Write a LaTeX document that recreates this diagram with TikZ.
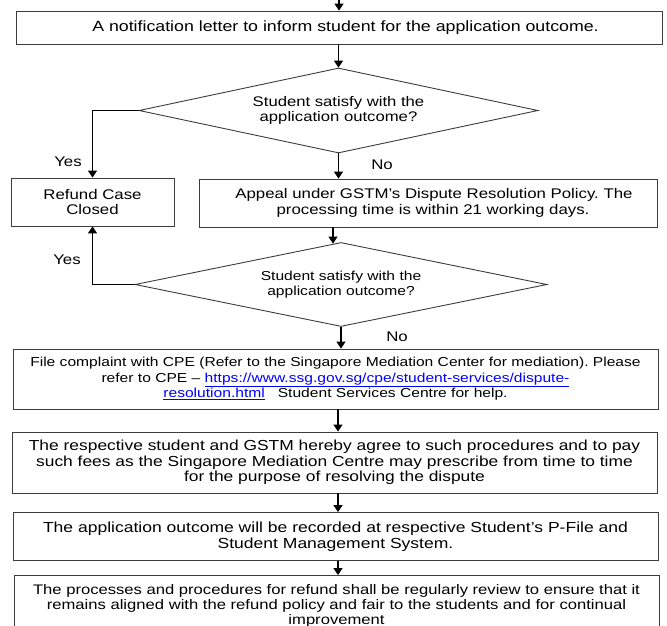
\documentclass[tikz,border=0pt]{standalone}
\usepackage{fontspec}
\setmainfont{Liberation Sans}[FakeStretch=1.2]
\usetikzlibrary{arrows.meta,shapes.geometric}
\definecolor{linkblue}{RGB}{0,0,255}
\definecolor{edge}{RGB}{60,60,60}
\frenchspacing
\begin{document}
\begin{tikzpicture}[x=1pt,y=-1pt,
  box/.style={draw=edge, line width=0.9pt, rectangle, inner sep=0pt, align=center,
    font=\fontsize{14}{15.5}\selectfont},
  dia/.style={draw=edge, line width=0.9pt, diamond, aspect=4.7, inner sep=0pt, align=center},
  conn/.style={-{Triangle[width=9pt,length=7pt]}, line width=1.1pt, black},
  lbl/.style={font=\fontsize{14}{15.5}\selectfont, inner sep=0pt}]
\useasboundingbox (0,0) rectangle (667,626);
\clip (0,0) rectangle (667,626);
\coordinate (col) at (338,0);
\coordinate (top) at (339,-2);
% boxes
\node[box, minimum width=646pt, minimum height=33pt, font=\fontsize{14.8}{15.5}\selectfont] (b1) at (339,27.5)
  {\hspace*{13pt}A notification letter to inform student for the application outcome.};
\node[dia, minimum width=399pt, minimum height=85pt, font=\fontsize{13.9}{14.5}\selectfont] (d1) at (338.5,110.5)
  {Student satisfy with the\\application outcome?};
\node[box, minimum width=163pt, minimum height=48pt] (refund) at (92.5,202)
  {Refund Case\\Closed};
\node[box, minimum width=458pt, minimum height=48pt] (appeal) at (428,203)
  {\hspace*{12pt}Appeal under GSTM’s Dispute Resolution Policy. The\\\hspace*{10pt}processing time is within 21 working days.};
\node[dia, minimum width=412pt, minimum height=84pt, font=\fontsize{13}{15}\selectfont] (d2) at (341,284.5)
  {Student satisfy with the\\application outcome?};
\node[box, minimum width=645pt, minimum height=60pt, font=\fontsize{13}{15.5}\selectfont] (cpe) at (335.5,379)
  {File complaint with CPE (Refer to the Singapore Mediation Center for mediation). Please\\
   refer to CPE – {\color{linkblue}\underline{https://www.ssg.gov.sg/cpe/student-services/dispute-}}\\
   {\color{linkblue}\underline{resolution.html}}\quad Student Services Centre for help.};
\node[box, minimum width=645pt, minimum height=61pt, font=\fontsize{14.5}{15.5}\selectfont] (b4) at (334.5,462.5)
  {The respective student and GSTM hereby agree to such procedures and to pay\\
   such fees as the Singapore Mediation Centre may prescribe from time to time\\
   for the purpose of resolving the dispute};
\node[box, minimum width=645pt, minimum height=48pt, font=\fontsize{14.6}{15.5}\selectfont] (b5) at (335.5,536.5)
  {The application outcome will be recorded at respective Student’s P-File and\\
   Student Management System.};
\node[box, minimum width=645pt, minimum height=60pt, font=\fontsize{13.85}{15}\selectfont] (b6) at (336.5,605.5)
  {The processes and procedures for refund shall be regularly review to ensure that it\\
   remains aligned with the refund policy and fair to the students and for continual\\
   improvement};
% connectors
\draw[conn] (top) -- (b1.north);
\draw[conn] (b1.south -| d1.north) -- (d1.north);
\draw[conn] (d1.west) -| (refund.north);
\draw[conn] (d1.south) -- (d1.south |- appeal.north);
\draw[conn] ([xshift=-8pt]d2.north |- appeal.south) -- ([xshift=-8pt,yshift=-1.6pt]d2.north);
\draw[conn] (d2.west) -| (refund.south);
\draw[conn] (d2.south) -- (d2.south |- cpe.north);
\draw[conn] (cpe.south -| col) -- (b4.north -| col);
\draw[conn] (b4.south -| col) -- (b5.north -| col);
\draw[conn] (b5.south -| col) -- (b6.north -| col);
% labels
\node[lbl] (yes1) at (68,162) {Yes};
\node[lbl] (no1) at (382,165) {No};
\node[lbl] (yes2) at (67,260) {Yes};
\node[lbl] (no2) at (397,337) {No};
\end{tikzpicture}
\end{document}
